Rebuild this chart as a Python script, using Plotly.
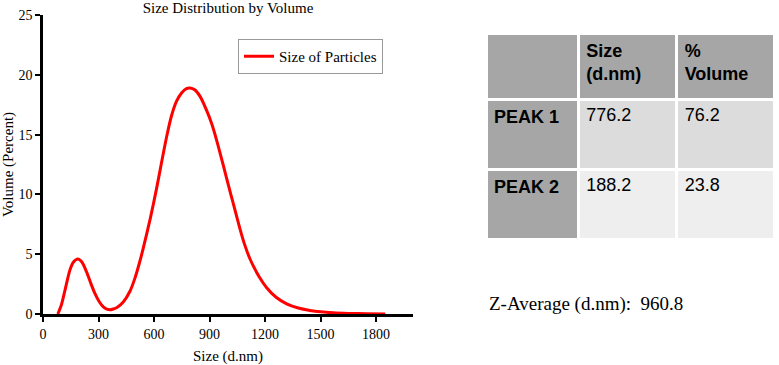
import plotly.graph_objects as go

# ---- data ----
sizes = [80, 100, 119, 146, 165, 188, 210, 236, 260, 281, 305, 326, 345, 362, 380,
         400, 434, 470, 497, 520, 542, 580, 614, 640, 668, 695, 722, 750, 775, 795,
         820, 849, 885, 912, 939, 975, 1000, 1029, 1065, 1090, 1119, 1165, 1209, 1260,
         1317, 1380, 1443, 1500, 1568, 1650, 1750, 1850]
volume = [0.0, 0.8, 2.0, 3.7, 4.35, 4.6, 4.35, 3.5, 2.5, 1.7, 1.0, 0.6, 0.4, 0.35, 0.42,
          0.55, 1.0, 1.9, 3.0, 4.2, 5.5, 8.0, 10.5, 12.6, 14.8, 16.6, 17.8, 18.5, 18.85, 18.9,
          18.75, 18.2, 17.0, 15.9, 14.5, 12.4, 10.9, 9.2, 7.1, 5.8, 4.6, 3.2, 2.2, 1.4,
          0.85, 0.5, 0.3, 0.18, 0.1, 0.05, 0.02, 0.01]

x_ticks = [0, 300, 600, 900, 1200, 1500, 1800]
y_ticks = [0, 5, 10, 15, 20, 25]

table_header = ["", "<b>Size<br>(d.nm)</b>", "<b>%<br>Volume</b>"]
peak_names = ["<b>PEAK 1</b>", "<b>PEAK 2</b>"]
peak_sizes = ["776.2", "188.2"]
peak_volumes = ["76.2", "23.8"]
z_average = "960.8"

W, H = 779, 365
fig = go.Figure()

fig.add_trace(go.Scatter(
    x=sizes, y=volume, mode="lines", name="Size of Particles",
    line=dict(color="#ff0000", width=3, shape="spline", smoothing=0.8),
    xaxis="x", yaxis="y"))

fig.add_trace(go.Table(
    domain=dict(x=[486 / W, 774 / W], y=[1 - 244 / H, 1 - 33 / H]),
    columnwidth=[92, 98, 97],
    header=dict(values=table_header, height=66, align="left",
                fill_color="#a6a6a6", line=dict(color="white", width=3),
                font=dict(family="Liberation Sans", size=18, color="black")),
    cells=dict(values=[peak_names, peak_sizes, peak_volumes], height=70, align="left",
               fill_color=[["#a6a6a6", "#a6a6a6"], ["#dcdcdc", "#eeeeee"], ["#dcdcdc", "#eeeeee"]],
               line=dict(color="white", width=3),
               font=dict(family="Liberation Sans", size=18, color="black"))))

axis_font = dict(family="Liberation Serif", size=14, color="black")
fig.update_layout(
    width=W, height=H, margin=dict(l=0, r=0, t=0, b=0),
    paper_bgcolor="white", plot_bgcolor="white",
    font=dict(family="Liberation Serif", color="black"),
    title=dict(text="Size Distribution by Volume", x=228 / W, xanchor="center",
               y=1 - 8 / H, yanchor="middle",
               font=dict(family="Liberation Serif", size=15, color="black")),
    xaxis=dict(domain=[43 / W, 413 / W], range=[0, 2000], tickvals=x_ticks,
               showline=True, linecolor="black", linewidth=2.5, ticks="outside",
               ticklen=5, tickwidth=2, tickcolor="black", showgrid=False, zeroline=False,
               tickfont=axis_font, automargin=False,
               title=dict(text="Size (d.nm)", standoff=12,
                          font=dict(family="Liberation Serif", size=15))),
    yaxis=dict(domain=[1 - 314 / H, 1 - 15 / H], range=[0, 25], tickvals=y_ticks,
               showline=True, linecolor="black", linewidth=2.5, ticks="outside",
               ticklen=5, tickwidth=2, tickcolor="black", showgrid=False, zeroline=False,
               tickfont=axis_font, automargin=False,
               title=dict(text="Volume (Percent)", standoff=10,
                          font=dict(family="Liberation Serif", size=15))),
    showlegend=True,
    legend=dict(x=238 / W, y=1 - 39 / H, xanchor="left", yanchor="top",
                bordercolor="#999999", borderwidth=1, bgcolor="white",
                font=dict(family="Liberation Serif", size=15, color="black"),
                itemwidth=30, tracegroupgap=0),
    annotations=[dict(text="Z-Average (d.nm):  " + z_average, xref="paper", yref="paper",
                      x=487 / W, y=1 - 304 / H, xanchor="left", yanchor="middle",
                      showarrow=False,
                      font=dict(family="Liberation Serif", size=19, color="black"))],
)

fig.write_html("out.html", config={"displayModeBar": False},
               post_script="document.body.style.margin='0';")
